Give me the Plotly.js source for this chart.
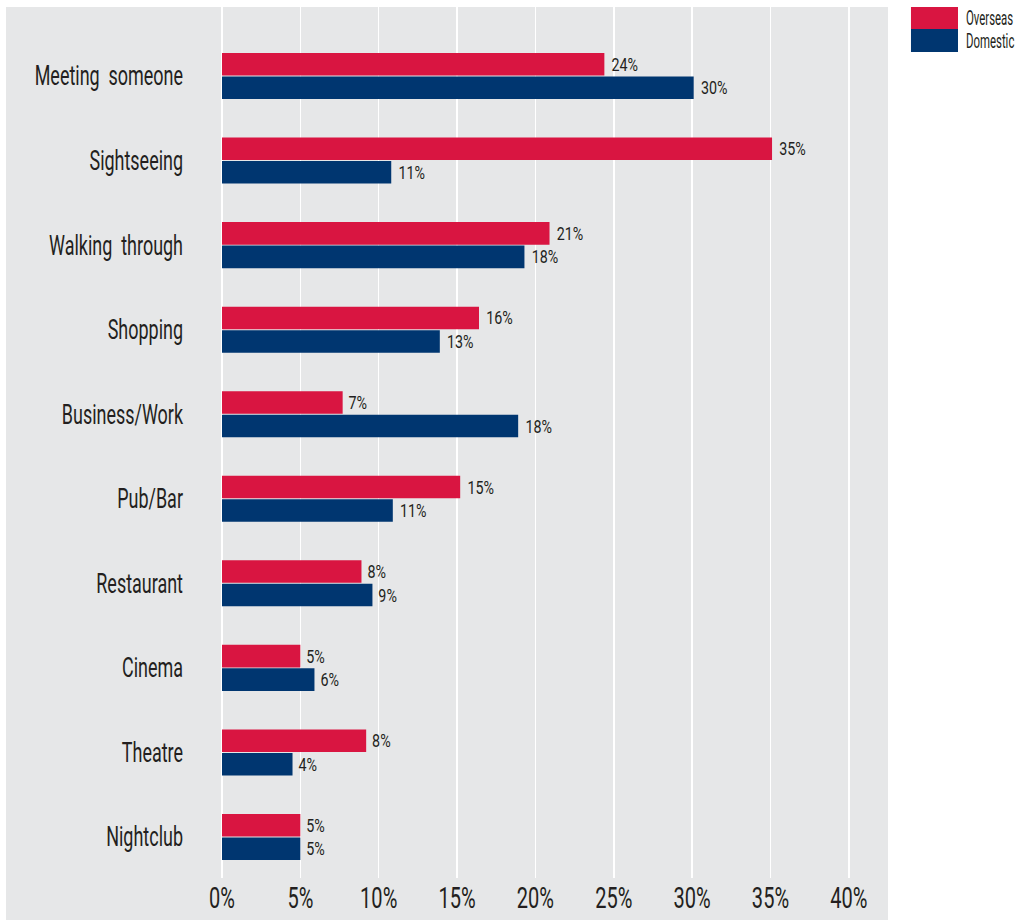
<!DOCTYPE html>
<html>
<head>
<meta charset="utf-8">
<script src="https://cdn.plot.ly/plotly-3.0.1.min.js"></script>
<style>html,body{margin:0;padding:0;background:#fff;}#chart{width:1024px;height:922px;}</style>
</head>
<body>
<div id="chart"></div>
<script>
var categories = ["Meeting  someone", "Sightseeing", "Walking  through", "Shopping", "Business/Work", "Pub/Bar", "Restaurant", "Cinema", "Theatre", "Nightclub"];
var overseasValues = [24.4, 35.1, 20.9, 16.4, 7.7, 15.2, 8.9, 5.0, 9.2, 5.0];
var domesticValues = [30.1, 10.8, 19.3, 13.9, 18.9, 10.9, 9.6, 5.9, 4.5, 5.0];
var overseasLabels = ["24%", "35%", "21%", "16%", "7%", "15%", "8%", "5%", "8%", "5%"];
var domesticLabels = ["30%", "11%", "18%", "13%", "18%", "11%", "9%", "6%", "4%", "5%"];
var seriesNames = ["Overseas", "Domestic"];
var tickValues = [0, 5, 10, 15, 20, 25, 30, 35, 40];

var FONT = "Roboto, Liberation Sans, sans-serif";
var RED = "#d91541";
var NAVY = "#003670";
var TXT = "#231f20";

function barTrace(name, vals, labels, color) {
  return {
    type: "bar",
    orientation: "h",
    name: name,
    y: categories,
    x: vals,
    text: labels,
    textposition: "outside",
    textfont: {family: FONT, size: 20, color: TXT},
    cliponaxis: false,
    marker: {color: color, line: {width: 0}},
    hoverinfo: "skip"
  };
}

var data = [
  barTrace(seriesNames[0], overseasValues, overseasLabels, RED),
  barTrace(seriesNames[1], domesticValues, domesticLabels, NAVY)
];

var layout = {
  width: 1024,
  height: 922,
  margin: {l: 222, r: 136, t: 7, b: 44, pad: 0},
  paper_bgcolor: "#ffffff",
  plot_bgcolor: "rgba(0,0,0,0)",
  barmode: "group",
  bargap: 0.444,
  bargroupgap: 0.04,
  showlegend: false,
  font: {family: FONT, color: TXT},
  xaxis: {
    range: [0, 42.5],
    tickvals: tickValues,
    ticktext: tickValues.map(function (v) { return v + "%"; }),
    showgrid: true,
    gridcolor: "#ffffff",
    gridwidth: 1.5,
    zeroline: true,
    zerolinecolor: "#ffffff",
    zerolinewidth: 1.5,
    showline: false,
    ticks: "",
    tickfont: {family: FONT, size: 29, color: TXT},
    fixedrange: true
  },
  yaxis: {
    type: "category",
    categoryorder: "array",
    categoryarray: categories,
    range: [9.485, -0.816],
    showgrid: false,
    zeroline: false,
    showline: false,
    ticks: "",
    ticklabelstandoff: 38,
    tickfont: {family: FONT, size: 27, color: TXT},
    fixedrange: true
  },
  shapes: [
    {type: "rect", xref: "paper", yref: "paper", x0: -0.3243, x1: 1, y0: -0.0482, y1: 1,
     fillcolor: "#e6e7e8", line: {width: 0}, layer: "below"},
    {type: "rect", xref: "paper", yref: "paper", x0: 1.0345, x1: 1.1051, y0: 0.9747, y1: 1,
     fillcolor: RED, line: {width: 0}},
    {type: "rect", xref: "paper", yref: "paper", x0: 1.0345, x1: 1.1051, y0: 0.9483, y1: 0.9747,
     fillcolor: NAVY, line: {width: 0}}
  ],
  annotations: [
    {xref: "paper", yref: "paper", x: 1.114, y: 0.9874, xanchor: "left", yanchor: "middle", align: "left",
     text: seriesNames[0], showarrow: false, font: {family: FONT, size: 20, color: TXT}},
    {xref: "paper", yref: "paper", x: 1.114, y: 0.9615, xanchor: "left", yanchor: "middle", align: "left",
     text: seriesNames[1], showarrow: false, font: {family: FONT, size: 20, color: TXT}}
  ]
};

// Emulate the condensed typeface of the original by narrowing glyphs.
function condense(sel, f) {
  document.querySelectorAll("#chart " + sel).forEach(function (t) {
    var w = t.getComputedTextLength();
    if (w > 0) {
      t.setAttribute("textLength", (w * f).toFixed(1));
      t.setAttribute("lengthAdjust", "spacingAndGlyphs");
    }
  });
}

Plotly.newPlot("chart", data, layout, {displayModeBar: false, staticPlot: true}).then(function () {
  condense(".ytick text", 0.665);
  condense(".xtick text", 0.69);
  condense("text.bartext", 0.76);
  // legend labels: narrow them horizontally about their left edge
  document.querySelectorAll("#chart .annotation").forEach(function (g) {
    var t = g.querySelector("text.annotation-text");
    var r = g.querySelector("rect.bg");
    if (!t) return;
    var x0 = parseFloat(t.getAttribute("x") || "0");
    var w = t.getComputedTextLength();
    var f = 0.57;
    t.setAttribute("transform", "translate(" + x0 + ",0) scale(" + f + ",1) translate(" + (-x0) + ",0)");
    if (r) r.setAttribute("width", (w * f + 4).toFixed(1));
  });
});
</script>
</body>
</html>
